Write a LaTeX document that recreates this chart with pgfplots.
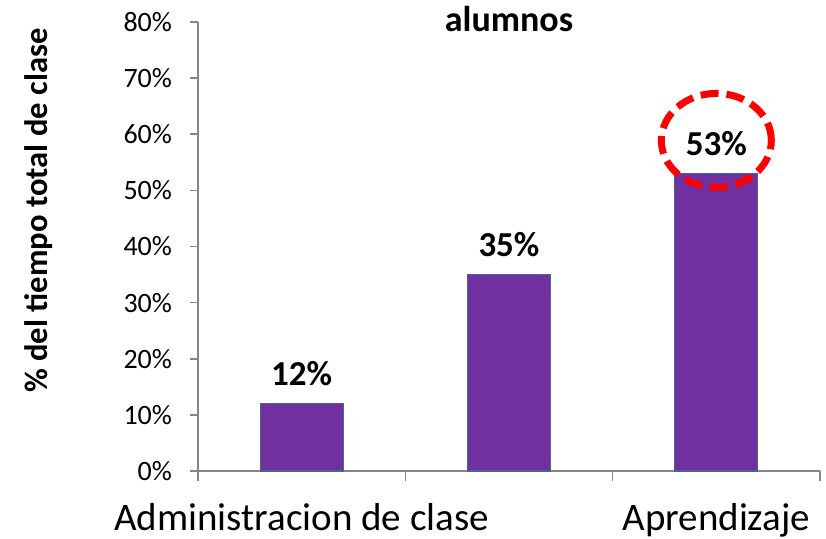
\documentclass[border=0pt]{standalone}
\usepackage{fontspec}
\setmainfont{Carlito}
\usepackage{pgfplots}
\pgfplotsset{compat=1.18}
\definecolor{barpurple}{RGB}{112,48,160}
\definecolor{baredge}{RGB}{70,100,150}
\definecolor{axisgray}{RGB}{134,134,134}

\begin{document}
\begin{tikzpicture}
\begin{axis}[
    scale only axis,
    width=311pt, height=224.5pt,
    ybar, bar width=41.5pt,
    xmin=-0.5, xmax=2.5,
    ymin=0, ymax=80,
    /pgf/number format/assume math mode=true,
    ytick={0,10,...,80},
    yticklabel={\pgfmathprintnumber{\tick}\%},
    yticklabel style={font=\fontsize{14}{16}\selectfont, xshift=-5.5pt},
    xtick={0,2},
    xticklabels={Administracion de clase, Aprendizaje},
    xticklabel style={font=\fontsize{19.5}{22}\selectfont, yshift=-8.5pt},
    extra x ticks={-0.5,0.5,1.5,2.5},
    extra x tick labels={},
    extra x tick style={major tick length=5pt, x tick style={draw=axisgray, line width=0.8pt}},
    axis lines*=left,
    axis line style={axisgray, line width=0.8pt, -},
    tick align=outside,
    major tick length=4pt,
    tick style={axisgray, line width=0.8pt},
    x tick style={draw=none},
    ylabel={\bfseries \% del tiempo total de clase},
    ylabel style={font=\fontsize{16.3}{19}\selectfont, at={(axis description cs:-0.257,0.58)}, anchor=center},
    nodes near coords={\bfseries\pgfmathprintnumber{\pgfplotspointmeta}\%},
    every node near coord/.append style={font=\fontsize{17.5}{20}\selectfont, anchor=base, yshift=9pt, black},
    clip=false,
]
\addplot[fill=barpurple, draw=baredge, line width=0.6pt] coordinates {(0,12) (1,35) (2,53)};
\node[anchor=base, font=\fontsize{18}{20}\selectfont\bfseries] at (rel axis cs:0.5,1) [yshift=-4.5pt] {alumnos};
\draw[red, line width=3.5pt, dash pattern=on 9pt off 4pt] (axis cs:2,58.9) ellipse [x radius=27.5pt, y radius=23.5pt];
\end{axis}
\pgfresetboundingbox
\useasboundingbox (-99pt,-33.5pt) rectangle (314pt,235.5pt);
\end{tikzpicture}
\end{document}
